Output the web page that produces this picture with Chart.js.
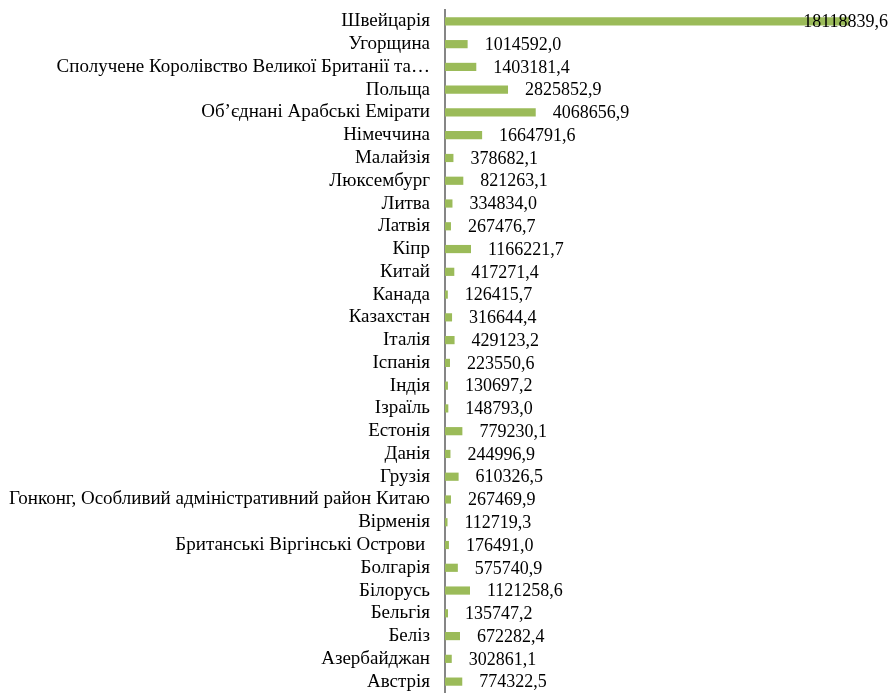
<!DOCTYPE html>
<html>
<head>
<meta charset="utf-8">
<script src="https://cdn.jsdelivr.net/npm/chart.js@4"></script>
<style>
  html, body { margin: 0; padding: 0; background: #fff; }
  #wrap { width: 891px; height: 693px; position: relative; }
</style>
</head>
<body>
<div id="wrap"><canvas id="chart"></canvas></div>
<script>
// Countries, top to bottom as in the picture
const countries = [
    'Швейцарія', 'Угорщина', 'Сполучене Королівство Великої Британії та…', 'Польща',
    'Об’єднані Арабські Емірати', 'Німеччина', 'Малайзія', 'Люксембург', 'Литва', 'Латвія',
    'Кіпр', 'Китай', 'Канада', 'Казахстан', 'Італія', 'Іспанія', 'Індія', 'Ізраїль',
    'Естонія', 'Данія', 'Грузія', 'Гонконг, Особливий адміністративний район Китаю',
    'Вірменія', 'Британські Віргінські Острови ', 'Болгарія', 'Білорусь', 'Бельгія',
    'Беліз', 'Азербайджан', 'Австрія'
];

// Values per country
const amounts = [
    18118839.6, 1014592.0, 1403181.4, 2825852.9, 4068656.9, 1664791.6, 378682.1, 821263.1,
    334834.0, 267476.7, 1166221.7, 417271.4, 126415.7, 316644.4, 429123.2, 223550.6,
    130697.2, 148793.0, 779230.1, 244996.9, 610326.5, 267469.9, 112719.3, 176491.0,
    575740.9, 1121258.6, 135747.2, 672282.4, 302861.1, 774322.5
];

const FONT = '"Liberation Serif", "Times New Roman", serif';

// Format number with comma as decimal separator
const fmt = v => v.toFixed(1).replace('.', ',');

// Draw value labels to the right of each bar
const valueLabels = {
    id: 'valueLabels',
    afterDatasetsDraw(chart) {
        const ctx = chart.ctx;
        const meta = chart.getDatasetMeta(0);
        ctx.save();
        ctx.font = '18px ' + FONT;
        ctx.fillStyle = '#000';
        ctx.textBaseline = 'middle';
        ctx.textAlign = 'left';
        meta.data.forEach((bar, i) => {
            const text = fmt(amounts[i]);
            const w = ctx.measureText(text).width;
            let x = bar.x + 17;
            if (x + w > chart.width - 3) x = chart.width - 3 - w;
            ctx.fillText(text, x, bar.y + 1);
        });
        ctx.restore();
    }
};

const ctx = document.getElementById('chart').getContext('2d');

new Chart(ctx, {
    type: 'bar',
    data: {
        labels: countries,
        datasets: [{
            data: amounts,
            backgroundColor: '#9bbb59',
            borderWidth: 0,
            barPercentage: 0.36,
            categoryPercentage: 1
        }]
    },
    options: {
        indexAxis: 'y',
        responsive: true,
        maintainAspectRatio: false,
        animation: false,
        layout: { padding: { top: 10, bottom: 0, left: 0, right: 0 } },
        scales: {
            x: {
                display: false,
                min: 0,
                max: 20000000
            },
            y: {
                afterFit: s => {
                    s.width = 445;
                    s.paddingTop = 0;
                    s.paddingBottom = 0;
                },
                grid: { display: false, drawTicks: false },
                border: { display: true, color: '#868686', width: 2 },
                ticks: {
                    color: '#000',
                    padding: 15,
                    autoSkip: false,
                    font: { family: FONT, size: 19 }
                }
            }
        },
        plugins: {
            legend: { display: false },
            tooltip: { enabled: false }
        }
    },
    plugins: [valueLabels]
});
</script>
</body>
</html>
